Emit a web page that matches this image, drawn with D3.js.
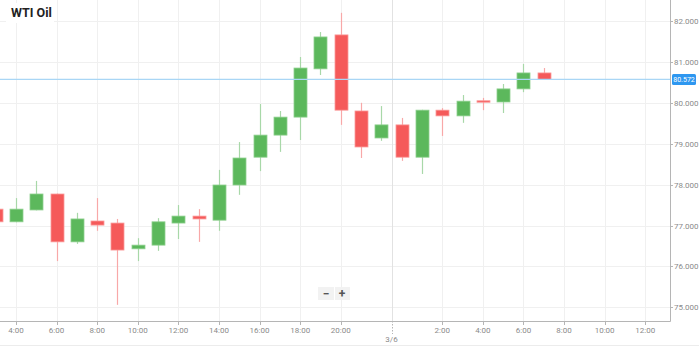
<!DOCTYPE html>
<html>
<head>
<meta charset="utf-8">
<script src="https://cdn.jsdelivr.net/npm/d3@7"></script>
<style>
  body { margin: 0; background: #fff; font-family: Roboto, "Noto Sans", sans-serif; }
</style>
</head>
<body>
<div id="chart"></div>
<script>
// hourly candles, WTI Oil (3/5 - 3/6)
const times = ["3:00","4:00","5:00","6:00","7:00","8:00","9:00","10:00","11:00","12:00","13:00","14:00",
  "15:00","16:00","17:00","18:00","19:00","20:00","21:00","23:00","0:00","1:00","2:00","3:00","4:00",
  "5:00","6:00","7:00"]
const opens  = [77.40,77.09,77.38,77.77,76.60,77.11,77.06,76.43,76.52,77.06,77.23,77.13,77.99,78.67,79.21,
  79.65,80.83,81.66,79.80,79.14,79.46,78.67,79.82,79.68,80.05,80.02,80.34,80.73]
const highs  = [77.45,77.67,78.09,77.78,77.31,77.67,77.16,76.69,77.18,77.50,77.40,78.36,79.04,79.97,79.80,
  81.12,81.73,82.20,80.00,79.92,79.63,79.83,79.87,80.19,80.12,80.46,80.95,80.85]
const lows   = [77.05,77.08,77.37,76.13,76.55,76.87,75.06,76.13,76.38,76.67,76.60,76.87,77.75,78.33,78.80,
  79.09,80.68,79.46,78.65,79.07,78.58,78.26,79.19,79.51,79.82,79.75,80.26,80.56]
const closes = [77.09,77.40,77.77,76.60,77.16,77.01,76.40,76.52,77.09,77.23,77.16,77.99,78.65,79.21,79.65,
  80.85,81.61,79.82,78.92,79.46,78.67,79.82,79.68,80.04,80.03,80.34,80.73,80.572]
const firstSlot = -1 // slot of the first candle (4:00 is slot 0)

const tickSlots  = [0, 2, 4, 6, 8, 10, 12, 14, 16, 18.5, 21, 23, 25, 27, 29, 31]
const tickLabels = ["4:00","6:00","8:00","10:00","12:00","14:00","16:00","18:00","20:00","3/6",
  "2:00","4:00","6:00","8:00","10:00","12:00"]
const yTicks = [75, 76, 77, 78, 79, 80, 81, 82]
const lastPrice = 80.572

const W = 699, H = 347
const plotRight = 670, plotBottom = 321

const svg = d3.select("#chart").append("svg")
  .attr("width", W).attr("height", H)
  .style("display", "block")

const x = d3.scaleLinear().domain([-0.788, 32.22]).range([0, plotRight])
const y = d3.scaleLinear().domain([75, 82]).range([307.3, 21])

svg.append("clipPath").attr("id", "clip")
  .append("rect").attr("x", 0).attr("y", 0).attr("width", plotRight).attr("height", plotBottom)

// grid
const grid = svg.append("g")
grid.selectAll(".hg").data(yTicks).join("line")
  .attr("x1", 0).attr("x2", plotRight)
  .attr("y1", d => Math.round(y(d)) + 0.5).attr("y2", d => Math.round(y(d)) + 0.5)
  .attr("stroke", "#f0f0f0")
grid.selectAll(".vg").data(tickSlots).join("line")
  .attr("x1", d => Math.round(x(d)) + 0.5).attr("x2", d => Math.round(x(d)) + 0.5)
  .attr("y1", 0).attr("y2", plotBottom)
  .attr("stroke", (d, i) => tickLabels[i] == "3/6" ? "#e2e2e2" : "#f0f0f0")

// title
svg.append("rect").attr("x", 6).attr("y", 3).attr("width", 48).attr("height", 20).attr("fill", "#fff")
svg.append("text").attr("x", 11).attr("y", 17)
  .style("font-size", "12.5px").style("font-weight", "bold").attr("fill", "#222")
  .text("WTI Oil")

// candles
const candles = times.map((t, i) => ({
  t: t, slot: firstSlot + i, o: opens[i], h: highs[i], l: lows[i], c: closes[i]
}))
const bodyW = 13
const g = svg.append("g").attr("clip-path", "url(#clip)")
const up = { body: "#5cb85c", edge: "#8fd08f", wick: "#a8d8a8" }
const down = { body: "#f55a5a", edge: "#fa9a9a", wick: "#f8a8a8" }

g.selectAll(".wick").data(candles).join("line")
  .attr("x1", d => Math.round(x(d.slot)) + 0.5).attr("x2", d => Math.round(x(d.slot)) + 0.5)
  .attr("y1", d => y(d.h)).attr("y2", d => y(d.l))
  .attr("stroke", d => d.c >= d.o ? up.wick : down.wick)
  .attr("stroke-width", 1.2)

g.selectAll(".body").data(candles).join("rect")
  .attr("x", d => Math.round(x(d.slot)) - bodyW / 2 + 0.5)
  .attr("y", d => y(Math.max(d.o, d.c)))
  .attr("width", bodyW)
  .attr("height", d => Math.max(1.5, Math.abs(y(d.o) - y(d.c))))
  .attr("fill", d => d.c >= d.o ? up.body : down.body)
  .attr("stroke", d => d.c >= d.o ? up.edge : down.edge)
  .attr("stroke-width", 0.8)

// current price line
svg.append("line")
  .attr("x1", 0).attr("x2", plotRight)
  .attr("y1", y(lastPrice)).attr("y2", y(lastPrice))
  .attr("stroke", "#a9d6f5").attr("stroke-width", 1.2)

// axes lines
svg.append("line").attr("x1", plotRight + 0.5).attr("x2", plotRight + 0.5)
  .attr("y1", 0).attr("y2", plotBottom + 0.5).attr("stroke", "#b5b5b5")
svg.append("line").attr("x1", 0).attr("x2", plotRight + 0.5)
  .attr("y1", plotBottom + 0.5).attr("y2", plotBottom + 0.5).attr("stroke", "#b5b5b5")

// y axis labels
const ya = svg.append("g")
ya.selectAll("line").data(yTicks).join("line")
  .attr("x1", plotRight).attr("x2", plotRight + 3)
  .attr("y1", d => Math.round(y(d)) + 0.5).attr("y2", d => Math.round(y(d)) + 0.5)
  .attr("stroke", "#b5b5b5")
ya.selectAll("text").data(yTicks).join("text")
  .attr("x", plotRight + 4).attr("y", d => y(d) + 3)
  .style("font-size", "8px").attr("fill", "#8a8a8a")
  .text(d => d3.format(".3f")(d))

// price tag
svg.append("rect").attr("x", plotRight + 2).attr("y", y(lastPrice) - 5.5)
  .attr("width", 24).attr("height", 11).attr("rx", 1.5).attr("fill", "#2e97f0")
svg.append("text").attr("x", plotRight + 14).attr("y", y(lastPrice) + 2.6)
  .attr("text-anchor", "middle")
  .style("font-size", "7px").attr("fill", "#fff").text(d3.format(".3f")(lastPrice))

// x axis
const xa = svg.append("g")
xa.selectAll("line").data(tickSlots).join("line")
  .attr("x1", d => Math.round(x(d)) + 0.5).attr("x2", d => Math.round(x(d)) + 0.5)
  .attr("y1", plotBottom).attr("y2", (d, i) => tickLabels[i] == "3/6" ? 334 : 325)
  .attr("stroke", "#b5b5b5")
  .attr("stroke-dasharray", (d, i) => tickLabels[i] == "3/6" ? "1.5,1.5" : null)
xa.selectAll("text").data(tickSlots).join("text")
  .attr("x", d => x(d))
  .attr("y", (d, i) => tickLabels[i] == "3/6" ? 342 : 333)
  .attr("text-anchor", "middle")
  .style("font-size", "8px").attr("fill", "#8a8a8a")
  .text((d, i) => tickLabels[i])

// bottom border
svg.append("line").attr("x1", 0).attr("x2", W).attr("y1", 345.5).attr("y2", 345.5).attr("stroke", "#ececec")

// zoom buttons
const zb = svg.append("g")
zb.append("rect").attr("x", 318).attr("y", 287).attr("width", 32).attr("height", 13).attr("fill", "#f2f2f2")
zb.append("line").attr("x1", 334.5).attr("x2", 334.5).attr("y1", 287).attr("y2", 300).attr("stroke", "#fff")
zb.append("text").attr("x", 326).attr("y", 297.5).attr("text-anchor", "middle")
  .style("font-size", "12px").style("font-weight", "bold").attr("fill", "#555").text("−")
zb.append("text").attr("x", 342).attr("y", 297.5).attr("text-anchor", "middle")
  .style("font-size", "12px").style("font-weight", "bold").attr("fill", "#555").text("+")
</script>
</body>
</html>
